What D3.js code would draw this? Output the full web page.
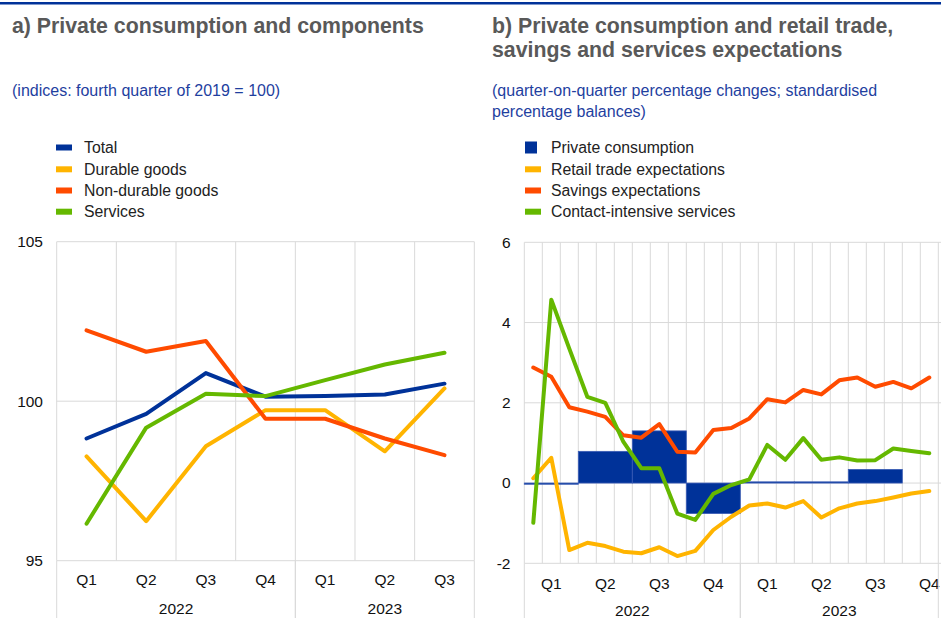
<!DOCTYPE html>
<html>
<head>
<meta charset="utf-8">
<script src="https://cdn.jsdelivr.net/npm/d3@7"></script>
<style>
  body { margin: 0; background: #fff; }
  svg { display: block; font-family: "Liberation Sans", Arial, sans-serif; }
</style>
</head>
<body>
<svg id="chart" width="941" height="618"></svg>
<script>
// panel a) quarterly indices
var quartersA = ["Q1", "Q2", "Q3", "Q4", "Q1", "Q2", "Q3"];
var yearsA = ["2022", "2023"];
var yearQuartersA = [4, 3];
var total = [98.83, 99.6, 100.88, 100.14, 100.16, 100.21, 100.55];
var durable = [98.27, 96.24, 98.59, 99.72, 99.72, 98.43, 100.4];
var nonDurable = [102.22, 101.55, 101.89, 99.45, 99.45, 98.83, 98.31];
var services = [96.16, 99.17, 100.23, 100.16, 100.66, 101.15, 101.52];
var ticksA = [95, 100, 105];

// panel b) monthly balances, Jan 2022 - Nov 2023, plus quarterly consumption
var quartersB = ["Q1", "Q2", "Q3", "Q4", "Q1", "Q2", "Q3", "Q4"];
var yearsB = ["2022", "2023"];
var yearMonthsB = [12, 11];
var consumption = [-0.03, 0.79, 1.30, -0.76, 0.03, 0.03, 0.34];
var retail = [0.12, 0.63, -1.67, -1.49, -1.57, -1.71, -1.75, -1.60, -1.82, -1.69, -1.17, -0.84,
              -0.56, -0.51, -0.61, -0.45, -0.86, -0.63, -0.51, -0.45, -0.36, -0.26, -0.20];
var savings = [2.88, 2.65, 1.89, 1.78, 1.65, 1.19, 1.13, 1.47, 0.78, 0.76, 1.32, 1.37,
               1.61, 2.09, 2.01, 2.32, 2.21, 2.56, 2.63, 2.40, 2.52, 2.36, 2.63];
var contact = [-0.99, 4.57, 3.35, 2.15, 2.0, 1.03, 0.37, 0.37, -0.76, -0.92, -0.27, -0.05,
               0.09, 0.95, 0.58, 1.12, 0.58, 0.64, 0.56, 0.57, 0.86, 0.80, 0.74];
var ticksB = [-2, 0, 2, 4, 6];

var blue = "#003299", yellow = "#ffb400", red = "#ff4b00", green = "#65b800";
var grid = "#d9d9d9";
var svg = d3.select("#chart");

// top rule and titles
svg.append("rect").attr("x", 0).attr("y", 2).attr("width", 941).attr("height", 2.5).attr("fill", blue);

function title(x, lines, y0) {
  lines.forEach(function(t, i) {
    svg.append("text").attr("x", x).attr("y", y0 + i * 24)
      .attr("font-size", "21.3px").attr("font-weight", "bold").attr("fill", "#595959").text(t);
  });
}
function subtitle(x, lines, y0) {
  lines.forEach(function(t, i) {
    svg.append("text").attr("x", x).attr("y", y0 + i * 21)
      .attr("font-size", "16px").attr("fill", "#1f3f9f").text(t);
  });
}
title(12, ["a) Private consumption and components"], 33);
title(492, ["b) Private consumption and retail trade,", "savings and services expectations"], 33);
subtitle(12, ["(indices: fourth quarter of 2019 = 100)"], 96);
subtitle(492, ["(quarter-on-quarter percentage changes; standardised", "percentage balances)"], 96);

function legend(x, textX, items) {
  var rowY = [147.5, 169.3, 190.5, 211.7];
  items.forEach(function(it, i) {
    var g = svg.append("g").attr("transform", "translate(" + x + "," + rowY[i] + ")");
    if (it.bar) {
      g.append("rect").attr("x", 0).attr("y", -6).attr("width", 12).attr("height", 12).attr("fill", it.color);
    } else {
      g.append("rect").attr("x", 0).attr("y", -3).attr("width", 16).attr("height", 6).attr("fill", it.color);
    }
    g.append("text").attr("x", textX).attr("y", 0).attr("dy", "0.35em")
      .attr("font-size", "15.8px").attr("fill", "#222").text(it.name);
  });
}
legend(56, 28, [
  {name: "Total", color: blue},
  {name: "Durable goods", color: yellow},
  {name: "Non-durable goods", color: red},
  {name: "Services", color: green}
]);
legend(525, 26, [
  {name: "Private consumption", color: blue, bar: true},
  {name: "Retail trade expectations", color: yellow},
  {name: "Savings expectations", color: red},
  {name: "Contact-intensive services", color: green}
]);

// ---------- panel a ----------
var xA = d3.scaleBand().domain(d3.range(quartersA.length)).range([56.7, 474.3]);
var yA = d3.scaleLinear().domain([95, 105]).range([560.7, 241.7]);
var gA = svg.append("g");

gA.selectAll("line.v").data(d3.range(quartersA.length + 1)).enter().append("line")
  .attr("x1", function(d) { return 56.7 + d * xA.bandwidth(); })
  .attr("x2", function(d) { return 56.7 + d * xA.bandwidth(); })
  .attr("y1", yA(105)).attr("y2", yA(95))
  .attr("stroke", grid).attr("stroke-width", 1);
gA.selectAll("line.h").data(ticksA).enter().append("line")
  .attr("x1", 56.7).attr("x2", 474.3)
  .attr("y1", function(d) { return yA(d); }).attr("y2", function(d) { return yA(d); })
  .attr("stroke", grid).attr("stroke-width", 1);
gA.selectAll("text.tick").data(ticksA).enter().append("text")
  .attr("x", 43).attr("y", function(d) { return yA(d); }).attr("dy", "0.35em")
  .attr("text-anchor", "end").attr("font-size", "15.5px").attr("fill", "#111").text(function(d) { return d; });
gA.selectAll("text.q").data(quartersA).enter().append("text")
  .attr("x", function(d, i) { return xA(i) + xA.bandwidth() / 2; })
  .attr("y", yA(95) + 19).attr("dy", "0.35em")
  .attr("text-anchor", "middle").attr("font-size", "15.5px").attr("fill", "#111").text(function(d) { return d; });

var startA = 0;
yearsA.forEach(function(yr, k) {
  var x0 = xA(startA), x1 = x0 + yearQuartersA[k] * xA.bandwidth();
  gA.append("text").attr("x", (x0 + x1) / 2).attr("y", yA(95) + 47.5).attr("dy", "0.35em")
    .attr("text-anchor", "middle").attr("font-size", "15.5px").attr("fill", "#111").text(yr);
  [x0, x1].forEach(function(x) {
    gA.append("line").attr("x1", x).attr("x2", x).attr("y1", yA(95)).attr("y2", 618)
      .attr("stroke", grid).attr("stroke-width", 1);
  });
  startA += yearQuartersA[k];
});

var lineA = d3.line()
  .x(function(d, i) { return xA(i) + xA.bandwidth() / 2; })
  .y(function(d) { return yA(d); });
[[total, blue], [durable, yellow], [nonDurable, red], [services, green]].forEach(function(s) {
  gA.append("path").datum(s[0]).attr("d", lineA)
    .attr("fill", "none").attr("stroke", s[1]).attr("stroke-width", 4)
    .attr("stroke-linejoin", "round").attr("stroke-linecap", "round");
});

// ---------- panel b ----------
var nMonths = retail.length;
var xB = d3.scaleLinear().domain([0, nMonths]).range([524.3, 938.3]);
var yB = d3.scaleLinear().domain([-2, 6]).range([563.3, 242.3]);
var gB = svg.append("g");

gB.selectAll("line.v").data(d3.range(nMonths + 1)).enter().append("line")
  .attr("x1", function(d) { return xB(d); }).attr("x2", function(d) { return xB(d); })
  .attr("y1", yB(6)).attr("y2", yB(-2))
  .attr("stroke", grid).attr("stroke-width", 1);
gB.selectAll("line.h").data(ticksB).enter().append("line")
  .attr("x1", xB(0)).attr("x2", 941)
  .attr("y1", function(d) { return yB(d); }).attr("y2", function(d) { return yB(d); })
  .attr("stroke", grid).attr("stroke-width", 1);
gB.selectAll("text.tick").data(ticksB).enter().append("text")
  .attr("x", 510.5).attr("y", function(d) { return yB(d); }).attr("dy", "0.35em")
  .attr("text-anchor", "end").attr("font-size", "15.5px").attr("fill", "#111").text(function(d) { return d; });
gB.selectAll("text.q").data(quartersB).enter().append("text")
  .attr("x", function(d, i) { return xB(i * 3 + 1.5); })
  .attr("y", yB(-2) + 20).attr("dy", "0.35em")
  .attr("text-anchor", "middle").attr("font-size", "15.5px").attr("fill", "#111").text(function(d) { return d; });

var startB = 0;
yearsB.forEach(function(yr, k) {
  var x0 = xB(startB), x1 = xB(startB + yearMonthsB[k]);
  gB.append("text").attr("x", (x0 + x1) / 2).attr("y", yB(-2) + 47.5).attr("dy", "0.35em")
    .attr("text-anchor", "middle").attr("font-size", "15.5px").attr("fill", "#111").text(yr);
  [x0, x1].forEach(function(x) {
    gB.append("line").attr("x1", x).attr("x2", x).attr("y1", yB(-2)).attr("y2", 618)
      .attr("stroke", grid).attr("stroke-width", 1);
  });
  startB += yearMonthsB[k];
});

// quarterly bars span three months
gB.selectAll("rect.bar").data(consumption).enter().append("rect")
  .attr("x", function(d, i) { return xB(i * 3); })
  .attr("width", function(d, i) { return xB(i * 3 + 3) - xB(i * 3); })
  .attr("y", function(d) { return yB(Math.max(0, d)); })
  .attr("height", function(d) { return Math.abs(yB(d) - yB(0)); })
  .attr("fill", blue).attr("stroke", "#3a5cb5").attr("stroke-width", 0.8);

var lineB = d3.line()
  .x(function(d, i) { return xB(i + 0.5); })
  .y(function(d) { return yB(d); });
[[retail, yellow], [savings, red], [contact, green]].forEach(function(s) {
  gB.append("path").datum(s[0]).attr("d", lineB)
    .attr("fill", "none").attr("stroke", s[1]).attr("stroke-width", 4)
    .attr("stroke-linejoin", "round").attr("stroke-linecap", "round");
});
</script>
</body>
</html>
